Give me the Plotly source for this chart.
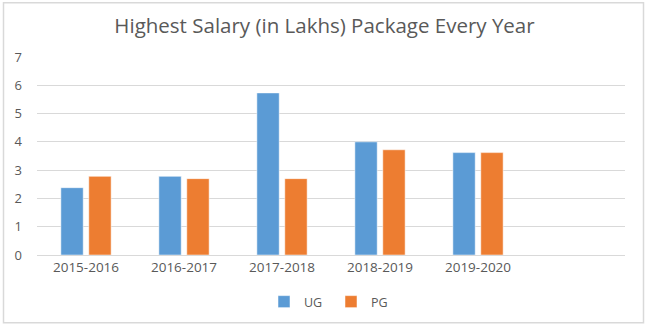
import plotly.graph_objects as go

categories = ["2015-2016", "2016-2017", "2017-2018", "2018-2019", "2019-2020"]
ug_values = [2.38, 2.78, 5.73, 4.0, 3.62]
pg_values = [2.78, 2.7, 2.7, 3.72, 3.62]
y_ticks = [0, 1, 2, 3, 4, 5, 6, 7]

W, H = 649, 328
ML, MR, MT, MB = 37, 24, 57, 72
pw, ph = W - ML - MR, H - MT - MB

txt = "#595959"
grid = "#d9d9d9"
FONT = "Open Sans, Lato, sans-serif"

fig = go.Figure()
fig.add_trace(go.Bar(name="UG", x=categories, y=ug_values, marker=dict(color="#5b9bd5", line=dict(color="white", width=0.5))))
fig.add_trace(go.Bar(name="PG", x=categories, y=pg_values, marker=dict(color="#ed7d31", line=dict(color="white", width=0.5))))

fig.update_layout(
    width=W, height=H,
    margin=dict(l=ML, r=MR, t=MT, b=MB, pad=0),
    paper_bgcolor="white", plot_bgcolor="white",
    barmode="group", bargap=0.43, bargroupgap=0.2,
    font=dict(family=FONT, color=txt, size=12),
    title=dict(text="Highest Salary (in Lakhs) Package Every Year", x=0.5, xanchor="center",
               y=1 - 26 / H, yanchor="middle", font=dict(size=20.5, color=txt, family=FONT)),
    showlegend=True,
    legend=dict(orientation="h", x=0.5, xanchor="center", y=-(302 - (MT + ph)) / ph, yanchor="middle",
                font=dict(size=12.5, color=txt), itemwidth=30, tracegroupgap=0,
                entrywidth=22, entrywidthmode="pixels"),
    xaxis=dict(type="category", range=[-0.5, 5.5], showgrid=False, showline=True, linecolor=grid, linewidth=1,
               ticks="", tickfont=dict(size=13.5, color=txt), fixedrange=True),
    yaxis=dict(range=[0, 7], tickvals=y_ticks, showgrid=True, gridcolor=grid, gridwidth=1, zeroline=False,
               showline=False, ticks="", ticklabelstandoff=14, tickfont=dict(size=13, color=txt)),
    shapes=[dict(type="rect", xref="paper", yref="paper",
                 x0=(3.5 - ML) / pw, x1=(643.5 - ML) / pw,
                 y0=(H - MB - 324) / ph, y1=(H - MB - 2.5) / ph,
                 line=dict(color=grid, width=1.5), fillcolor="rgba(0,0,0,0)", layer="below")],
)

fig.write_html("out.html")
